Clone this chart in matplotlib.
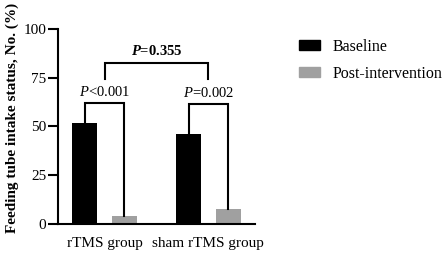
import matplotlib
matplotlib.use("Agg")
import matplotlib.pyplot as plt
from matplotlib.patches import Patch
import numpy as np

plt.rcParams['font.family'] = ['Liberation Serif', 'DejaVu Serif']
plt.rcParams['mathtext.fontset'] = 'custom'
plt.rcParams['mathtext.rm'] = 'Liberation Serif'
plt.rcParams['mathtext.it'] = 'Liberation Serif:italic'
plt.rcParams['mathtext.bf'] = 'Liberation Serif:bold'
plt.rcParams['mathtext.bfit'] = 'Liberation Serif:bold:italic'

groups = ["rTMS group", "sham rTMS group"]
series = ["Baseline", "Post-intervention"]
baseline = [52, 46]
post = [4, 7.5]
colors = ["#000000", "#a0a0a0"]
yticks = [0, 25, 50, 75, 100]
p_within = [r"$P$<0.001", r"$P$=0.002"]
p_between = r"$\mathbfit{P}$=0.355"

fig = plt.figure(figsize=(4.47, 2.54), dpi=100)
ax = fig.add_axes([0.130, 0.118, 0.440, 0.768])

x = np.arange(len(groups))
w = 0.24
off = 0.19
ax.bar(x - off, baseline, w, color=colors[0], label=series[0])
ax.bar(x + off, post, w, color=colors[1], label=series[1])

ax.set_xlim(-0.447, 1.447)
ax.set_ylim(0, 100)
ax.set_yticks(yticks)
ax.set_xticks(x)
ax.set_xticklabels(groups, fontsize=11)
ax.tick_params(axis='y', labelsize=11, width=1.5, length=7, pad=1.5, direction='out')
ax.tick_params(axis='x', length=0, pad=9)
for s in ['top', 'right']:
    ax.spines[s].set_visible(False)
for s in ['left', 'bottom']:
    ax.spines[s].set_linewidth(1.5)
ax.set_ylabel("Feeding tube intake status, No. (%)", fontsize=11, fontweight='bold')
ax.yaxis.set_label_coords(-0.2, 0.545)

lw = 1.5
tops = [62, 61.5]
for i in range(len(groups)):
    x0, x1 = x[i] - off, x[i] + off
    ax.plot([x0, x0, x1, x1], [baseline[i], tops[i], tops[i], post[i]], color='black', lw=lw, solid_joinstyle='miter')
    ax.text(x[i], tops[i] + 2.0, p_within[i], ha='center', va='bottom', fontsize=10.5)

yb, yt = 74.5, 82.5
ax.plot([x[0], x[0], x[1], x[1]], [yb, yt, yt, yb], color='black', lw=lw, solid_joinstyle='miter')
ax.text((x[0] + x[1]) / 2, yt + 2.5, p_between, ha='center', va='bottom', fontsize=10.5, fontweight='bold')

handles = [Patch(color=colors[0]), Patch(color=colors[1])]
fig.legend(handles, series, loc='upper left', bbox_to_anchor=(0.637, 0.905), frameon=False,
           fontsize=11.5, handlelength=1.3, handleheight=0.55, handletextpad=0.8, labelspacing=0.7)

fig.savefig("out.png", dpi=100)
